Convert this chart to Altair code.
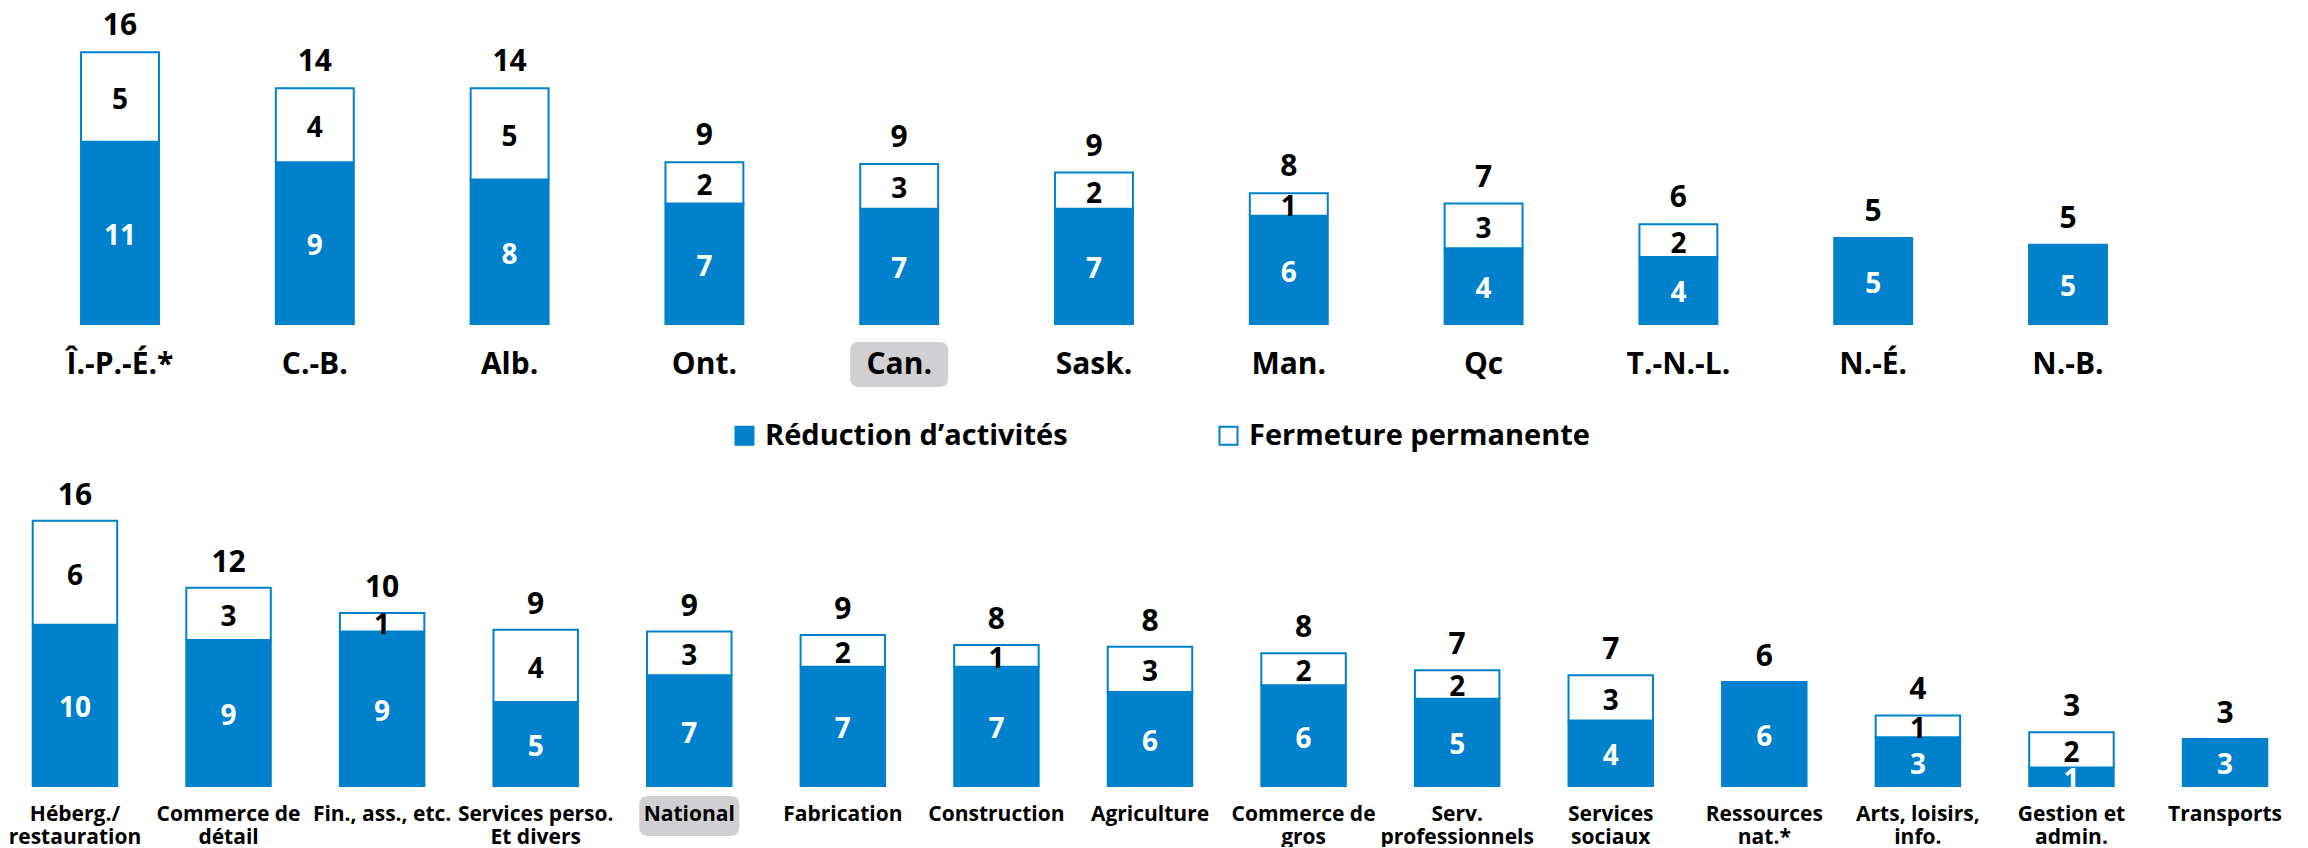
import altair as alt
import pandas as pd

# ---------------- data ----------------
series_names = ["Réduction d’activités", "Fermeture permanente"]

top_categories = ["Î.-P.-É.*", "C.-B.", "Alb.", "Ont.", "Can.", "Sask.", "Man.", "Qc",
                  "T.-N.-L.", "N.-É.", "N.-B."]
top_reduction = [10.6, 9.4, 8.4, 7.0, 6.7, 6.7, 6.3, 4.4, 3.9, 5.0, 4.6]
top_fermeture = [5.2, 4.3, 5.3, 2.4, 2.6, 2.1, 1.3, 2.6, 1.9, 0.0, 0.0]
top_highlight = "Can."

bottom_categories = ["Héberg./|restauration", "Commerce de|détail", "Fin., ass., etc.",
                     "Services perso.|Et divers", "National", "Fabrication", "Construction",
                     "Agriculture", "Commerce de|gros", "Serv.|professionnels",
                     "Services|sociaux", "Ressources|nat.*", "Arts, loisirs,|info.",
                     "Gestion et|admin.", "Transports"]
bottom_reduction = [9.6, 8.7, 9.2, 5.0, 6.6, 7.1, 7.1, 5.6, 6.0, 5.2, 3.9, 6.2, 2.9, 1.1, 2.8]
bottom_fermeture = [6.2, 3.1, 1.1, 4.3, 2.6, 1.9, 1.3, 2.7, 1.9, 1.7, 2.7, 0.0, 1.3, 2.1, 0.0]
bottom_highlight = "National"

BLUE = "#0081CC"
GREY = "#D0D0D2"
FONT = "Open Sans"


def frames(cats, red, ferm):
    rows = []
    for i, c in enumerate(cats):
        base = 0.0
        for k, v in enumerate((red[i], ferm[i])):
            if v > 0:
                rows.append(dict(cat=c, series=series_names[k], ord=k, value=v,
                                 mid=base + v / 2, label=str(int(round(v)))))
            base += v
    seg = pd.DataFrame(rows)
    tot = pd.DataFrame({"cat": cats, "total": [r + f for r, f in zip(red, ferm)]})
    tot["label"] = tot["total"].round().astype(int).astype(str)
    return seg, tot


legend = alt.Legend(orient="none", legendX=722, legendY=413, direction="horizontal",
                    title=None, symbolType="square", symbolSize=324,
                    symbolStrokeColor=BLUE, symbolStrokeWidth=2, symbolOpacity=1,
                    labelFont=FONT, labelFontSize=29, labelFontWeight="bold",
                    labelColor="black", labelOffset=6, columnPadding=146,
                    labelLimit=600, padding=0)


def panel(cats, red, ferm, hl, width, height, ymax, p_in, p_out, lab_size, lab_pad,
          hl_y, hl_h, hl_w, total_dy):
    seg, tot = frames(cats, red, ferm)
    x = alt.X("cat:N", sort=cats,
              scale=alt.Scale(paddingInner=p_in, paddingOuter=p_out),
              axis=alt.Axis(title=None, labelAngle=0, ticks=False, domain=False,
                            labelFont=FONT, labelFontSize=lab_size, labelFontWeight="bold",
                            labelColor="black", labelPadding=lab_pad,
                            labelExpr="split(datum.label, '|')", labelLineHeight=23,
                            labelLimit=400, zindex=1))
    yscale = alt.Scale(domain=[0, ymax])

    hl_layer = alt.Chart(pd.DataFrame({"cat": [hl]})).mark_bar(
        width=hl_w, cornerRadius=8, color=GREY
    ).encode(x=x, y=alt.value(height + hl_y), y2=alt.value(height + hl_y + hl_h))

    bars = alt.Chart(seg).mark_bar(stroke=BLUE, strokeWidth=2).encode(
        x=x,
        y=alt.Y("value:Q", stack="zero", scale=yscale, axis=None),
        color=alt.Color("series:N", sort=series_names,
                        scale=alt.Scale(domain=series_names, range=[BLUE, "#FFFFFF"]),
                        legend=legend),
        order=alt.Order("ord:Q"),
    )
    txt_blue = alt.Chart(seg).transform_filter("datum.ord == 0").mark_text(
        font=FONT, fontSize=28, fontWeight="bold", color="white", baseline="middle", dy=4
    ).encode(x=x, y=alt.Y("mid:Q", scale=yscale, axis=None), text="label:N")
    txt_white = alt.Chart(seg).transform_filter("datum.ord == 1").mark_text(
        font=FONT, fontSize=28, fontWeight="bold", color="black", baseline="middle", dy=4
    ).encode(x=x, y=alt.Y("mid:Q", scale=yscale, axis=None), text="label:N")
    txt_tot = alt.Chart(tot).mark_text(
        font=FONT, fontSize=30, fontWeight="bold", color="black", baseline="middle",
        dy=total_dy
    ).encode(x=x, y=alt.Y("total:Q", scale=yscale, axis=None), text="label:N")

    return alt.layer(hl_layer, bars, txt_blue, txt_white, txt_tot).properties(
        width=width, height=height)


top = panel(top_categories, top_reduction, top_fermeture, top_highlight,
            width=2172, height=316, ymax=18.37, p_in=0.6, p_out=0.375,
            lab_size=30, lab_pad=25, hl_y=18, hl_h=45, hl_w=98, total_dy=-26)
bottom = panel(bottom_categories, bottom_reduction, bottom_fermeture, bottom_highlight,
               width=2284, height=316, ymax=18.82, p_in=0.45, p_out=0.161,
               lab_size=21, lab_pad=17, hl_y=10, hl_h=40, hl_w=100, total_dy=-25)

chart = alt.vconcat(top, bottom, spacing=83).properties(padding=0).configure_view(
    stroke=None)

chart.save("out.html", embed_options={"renderer": "svg", "actions": False})
